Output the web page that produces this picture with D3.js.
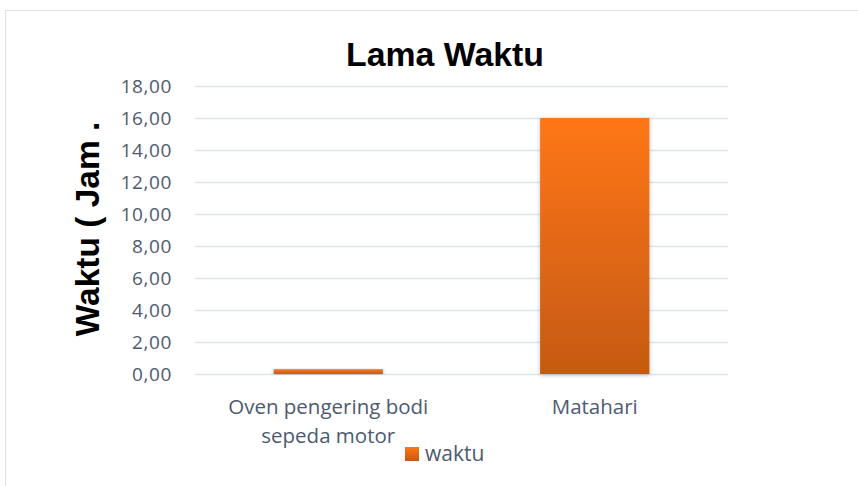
<!DOCTYPE html>
<html>
<head>
<meta charset="utf-8">
<script src="https://cdn.jsdelivr.net/npm/d3@7"></script>
<style>
  body { margin: 0; background: #fff; }
  svg { display: block; }
</style>
</head>
<body>
<div id="chart"></div>
<script>
const categories = ["Oven pengering bodi sepeda motor", "Matahari"];
const waktu = [0.3, 16];
const yTicks = [0, 2, 4, 6, 8, 10, 12, 14, 16, 18];

const width = 858, height = 486;
const svg = d3.select("#chart").append("svg")
    .attr("width", width)
    .attr("height", height);

const defs = svg.append("defs");
const grad = defs.append("linearGradient")
    .attr("id", "barGrad")
    .attr("x1", 0).attr("y1", 0).attr("x2", 0).attr("y2", 1);
grad.append("stop").attr("offset", "0%").attr("stop-color", "#ff7615");
grad.append("stop").attr("offset", "100%").attr("stop-color", "#c55a11");

const shadow = defs.append("filter").attr("id", "shadow")
    .attr("x", "-10%").attr("y", "-10%").attr("width", "120%").attr("height", "120%");
shadow.append("feDropShadow")
    .attr("dx", 0).attr("dy", 1).attr("stdDeviation", 2)
    .attr("flood-color", "#000").attr("flood-opacity", 0.25);

// chart border
svg.append("rect")
    .attr("x", 5.5).attr("y", 10.5)
    .attr("width", 858).attr("height", 490)
    .attr("fill", "none")
    .attr("stroke", "#dde1ea");

const plot = {left: 195, right: 728, top: 86, bottom: 374};

const x = d3.scaleBand()
    .domain(categories)
    .range([plot.left, plot.right])
    .paddingInner(0.59)
    .paddingOuter(0.295);

const y = d3.scaleLinear()
    .domain([0, 18])
    .range([plot.bottom, plot.top]);

const labelFont = "'Open Sans', sans-serif";
const labelColor = "#4d5a70";

// gridlines
svg.append("g").selectAll("line").data(yTicks).join("line")
    .attr("x1", plot.left).attr("x2", plot.right)
    .attr("y1", d => y(d) + 0.5).attr("y2", d => y(d) + 0.5)
    .attr("stroke", "#dfe3ea")
    .attr("stroke-width", 1.5);

// y axis labels
const yAxis = d3.axisLeft(y)
    .tickValues(yTicks)
    .tickSize(0)
    .tickPadding(23)
    .tickFormat(d => d3.format(".2f")(d).replace(".", ","));
svg.append("g")
    .attr("transform", `translate(${plot.left},0)`)
    .call(yAxis)
    .call(g => g.select(".domain").remove())
    .selectAll("text")
    .style("font-family", labelFont)
    .style("font-size", "19px")
    .style("letter-spacing", "0.6px")
    .attr("fill", labelColor)
    .attr("dy", "0.35em");

// bars
svg.append("g").selectAll("rect").data(waktu).join("rect")
    .attr("x", (d, i) => x(categories[i]))
    .attr("y", d => y(d))
    .attr("width", x.bandwidth())
    .attr("height", d => y(0) - y(d))
    .attr("fill", "url(#barGrad)")
    .attr("filter", "url(#shadow)");

// x axis labels
const xLabels = [["Oven pengering bodi", "sepeda motor"], ["Matahari"]];
svg.append("g").selectAll("text").data(categories).join("text")
    .attr("x", d => x(d) + x.bandwidth() / 2)
    .attr("y", 414)
    .attr("text-anchor", "middle")
    .style("font-family", labelFont)
    .style("font-size", "20.5px")
    .attr("fill", labelColor)
    .each(function (d, i) {
        d3.select(this).selectAll("tspan").data(xLabels[i]).join("tspan")
            .attr("x", x(d) + x.bandwidth() / 2)
            .attr("dy", (t, j) => j === 0 ? 0 : 29)
            .text(t => t);
    });

// title
svg.append("text")
    .attr("x", 445).attr("y", 66)
    .attr("text-anchor", "middle")
    .style("font-family", "'Liberation Sans', Arial, sans-serif")
    .style("font-weight", "bold")
    .style("font-size", "33.8px")
    .attr("fill", "#000")
    .text("Lama Waktu");

// y axis title
svg.append("text")
    .attr("transform", "translate(99,229) rotate(-90)")
    .attr("text-anchor", "middle")
    .style("font-family", "'Liberation Sans', Arial, sans-serif")
    .style("font-weight", "bold")
    .style("font-size", "33.5px")
    .attr("fill", "#000")
    .text("Waktu ( Jam .");

// legend
const legend = svg.append("g").attr("transform", "translate(405,447)");
legend.append("rect")
    .attr("width", 14).attr("height", 14)
    .attr("fill", "url(#barGrad)");
legend.append("text")
    .attr("x", 20).attr("y", 14)
    .style("font-family", labelFont)
    .style("font-size", "21px")
    .attr("fill", labelColor)
    .text("waktu");
</script>
</body>
</html>
